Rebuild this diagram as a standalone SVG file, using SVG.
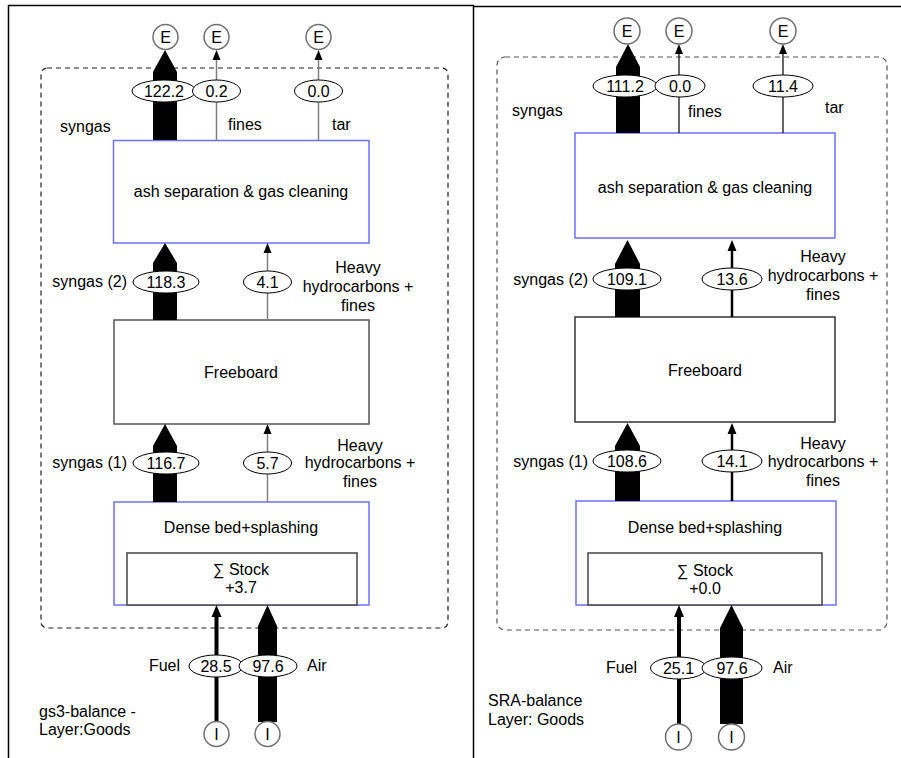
<svg xmlns="http://www.w3.org/2000/svg" width="901" height="758" viewBox="0 0 901 758">
<style>
.t{font-family:"Liberation Sans",Arial,sans-serif;font-size:16px;fill:#000}
.m{text-anchor:middle}
.e{text-anchor:end}
.lbl{fill:#fff;stroke:#000;stroke-width:1}
.circ{fill:#fff;stroke:#707070;stroke-width:1.5}
.blue{fill:#fff;stroke:#7070ff;stroke-width:1.5}
.gbox{fill:#fff;stroke:#555;stroke-width:1.5}
.dash{fill:none;stroke:#222;stroke-width:1.2;stroke-dasharray:5,4}
.thk{fill:#000;stroke:none}
.gl{stroke:#808080;stroke-width:1.5;fill:none}
.bl{stroke:#000;stroke-width:1.2;fill:none}
.bl2{stroke:#000;stroke-width:2.5;fill:none}
.bl4{stroke:#000;stroke-width:4;fill:none}
.hd{fill:#000}
</style>
<rect width="901" height="758" fill="#fff"/>
<g id="frames">
<path d="M8.5,758 V5.5 H473.5 V758" fill="none" stroke="#000" stroke-width="1.5"/>
<path d="M473.5,6.5 H901" fill="none" stroke="#000" stroke-width="1.5"/>
<rect class="dash" x="41" y="68" width="407" height="560" rx="6"/>
<rect class="dash" x="497" y="57" width="390" height="573" rx="8" style="stroke:#555"/>
</g>
<!-- LEFT PANEL NODES -->
<g id="L-ash"><rect class="blue" x="113.5" y="140.5" width="255.5" height="102.5"/><text class="t m" x="241" y="197">ash separation &amp; gas cleaning</text></g>
<g id="L-freeboard"><rect class="gbox" x="114" y="320" width="255" height="104"/><text class="t m" x="241" y="378">Freeboard</text></g>
<g id="L-dense"><rect class="blue" x="114" y="502" width="255" height="103"/><text class="t m" x="241" y="533">Dense bed+splashing</text>
<rect class="gbox" x="127" y="553" width="230" height="52" style="stroke:#444"/><text class="t m" x="241" y="575">∑ Stock</text><text class="t m" x="241" y="593">+3.7</text></g>
<!-- RIGHT PANEL NODES -->
<g id="R-ash"><rect class="blue" x="575" y="133" width="260" height="105"/><text class="t m" x="705" y="193">ash separation &amp; gas cleaning</text></g>
<g id="R-freeboard"><rect class="gbox" x="575" y="317" width="260" height="105" style="stroke:#333"/><text class="t m" x="705" y="376">Freeboard</text></g>
<g id="R-dense"><rect class="blue" x="576" y="501" width="260" height="104"/><text class="t m" x="705" y="533">Dense bed+splashing</text>
<rect class="gbox" x="588" y="553" width="234" height="52" style="stroke:#444"/><text class="t m" x="705" y="576">∑ Stock</text><text class="t m" x="705" y="594">+0.0</text></g>
<g id="connectors">
<!-- left -->
<polygon class="thk" points="153,140 177,140 177,72 165,50 153,72"/>
<line class="gl" x1="216.5" y1="140" x2="216.5" y2="58"/><polygon class="hd" points="216.5,50 212.5,60 220.5,60"/>
<line class="gl" x1="318.5" y1="140" x2="318.5" y2="58"/><polygon class="hd" points="318.5,50 314.5,60 322.5,60"/>
<polygon class="thk" points="153,320 177,320 177,263 165,243 153,263"/>
<line class="gl" x1="267.5" y1="320" x2="267.5" y2="251"/><polygon class="hd" points="267.5,243 263.5,253 271.5,253"/>
<polygon class="thk" points="153,502 177,502 177,446 165,424 153,446"/>
<line class="gl" x1="267.5" y1="502" x2="267.5" y2="432"/><polygon class="hd" points="267.5,424 263.5,434 271.5,434"/>
<line class="bl4" x1="216.5" y1="722" x2="216.5" y2="614"/><polygon class="hd" points="216.5,605 211.5,617 221.5,617"/>
<polygon class="thk" points="258,722 277,722 277,626 267.5,605 258,626"/>
<ellipse class="lbl" cx="164" cy="91" rx="32" ry="11"/><text class="t m" x="164" y="96.5">122.2</text>
<ellipse class="lbl" cx="216.5" cy="91" rx="24" ry="11"/><text class="t m" x="216.5" y="96.5">0.2</text>
<ellipse class="lbl" cx="318.5" cy="91" rx="24" ry="11"/><text class="t m" x="318.5" y="96.5">0.0</text>
<ellipse class="lbl" cx="166" cy="282" rx="33" ry="11"/><text class="t m" x="166" y="287.5">118.3</text>
<ellipse class="lbl" cx="267.5" cy="282" rx="24" ry="11"/><text class="t m" x="267.5" y="287.5">4.1</text>
<ellipse class="lbl" cx="166" cy="463" rx="33" ry="11"/><text class="t m" x="166" y="468.5">116.7</text>
<ellipse class="lbl" cx="267.5" cy="463" rx="24" ry="11"/><text class="t m" x="267.5" y="468.5">5.7</text>
<ellipse class="lbl" cx="216" cy="666" rx="27" ry="11"/><text class="t m" x="216" y="671.5">28.5</text>
<ellipse class="lbl" cx="268" cy="666" rx="29" ry="11"/><text class="t m" x="268" y="671.5">97.6</text>
<text class="t" x="60" y="132">syngas</text>
<text class="t" x="228" y="130">fines</text>
<text class="t" x="332" y="130">tar</text>
<text class="t e" x="127" y="287">syngas (2)</text>
<text class="t m" x="358" y="273">Heavy</text><text class="t m" x="358" y="292">hydrocarbons +</text><text class="t m" x="358" y="311">fines</text>
<text class="t e" x="127" y="468">syngas (1)</text>
<text class="t m" x="360" y="451">Heavy</text><text class="t m" x="360" y="468">hydrocarbons +</text><text class="t m" x="360" y="487">fines</text>
<text class="t e" x="180" y="671">Fuel</text>
<text class="t" x="307" y="671">Air</text>
<!-- right -->
<polygon class="thk" points="616,133 640,133 640,67 628,44 616,67"/>
<line class="bl" x1="679" y1="133" x2="679" y2="52"/><polygon class="hd" points="679,44 675,54 683,54"/>
<line class="bl" x1="783" y1="133" x2="783" y2="52"/><polygon class="hd" points="783,44 779,54 787,54"/>
<polygon class="thk" points="615,317 640,317 640,264 627.5,240 615,264"/>
<line class="bl2" x1="732" y1="317" x2="732" y2="248"/><polygon class="hd" points="732,240 727.5,251 736.5,251"/>
<polygon class="thk" points="615,501 640,501 640,446 627.5,423 615,446"/>
<line class="bl2" x1="732" y1="501" x2="732" y2="431"/><polygon class="hd" points="732,423 727.5,434 736.5,434"/>
<line class="bl4" x1="679" y1="724" x2="679" y2="614"/><polygon class="hd" points="679,605 674,617 684,617"/>
<polygon class="thk" points="720,724 743,724 743,628 731.5,605 720,628"/>
<ellipse class="lbl" cx="625" cy="86" rx="32" ry="11"/><text class="t m" x="625" y="91.5">111.2</text>
<ellipse class="lbl" cx="680" cy="86" rx="25" ry="11"/><text class="t m" x="680" y="91.5">0.0</text>
<ellipse class="lbl" cx="783" cy="86" rx="30" ry="11"/><text class="t m" x="783" y="91.5">11.4</text>
<ellipse class="lbl" cx="627" cy="279" rx="34" ry="11"/><text class="t m" x="627" y="284.5">109.1</text>
<ellipse class="lbl" cx="732" cy="279" rx="30" ry="11"/><text class="t m" x="732" y="284.5">13.6</text>
<ellipse class="lbl" cx="627" cy="461" rx="34" ry="11"/><text class="t m" x="627" y="466.5">108.6</text>
<ellipse class="lbl" cx="732" cy="461" rx="30" ry="11"/><text class="t m" x="732" y="466.5">14.1</text>
<ellipse class="lbl" cx="678.5" cy="668" rx="28" ry="11"/><text class="t m" x="678.5" y="673.5">25.1</text>
<ellipse class="lbl" cx="732" cy="668" rx="30" ry="11"/><text class="t m" x="732" y="673.5">97.6</text>
<text class="t" x="512" y="116">syngas</text>
<text class="t" x="688" y="117">fines</text>
<text class="t" x="825" y="113">tar</text>
<text class="t e" x="588" y="285">syngas (2)</text>
<text class="t m" x="823" y="262">Heavy</text><text class="t m" x="823" y="281">hydrocarbons +</text><text class="t m" x="823" y="300">fines</text>
<text class="t e" x="588" y="467">syngas (1)</text>
<text class="t m" x="823" y="449">Heavy</text><text class="t m" x="823" y="467">hydrocarbons +</text><text class="t m" x="823" y="486">fines</text>
<text class="t e" x="637" y="673">Fuel</text>
<text class="t" x="773" y="673">Air</text>
</g>
<g id="L-E1"><circle class="circ" cx="165.5" cy="37" r="12.5"/><text class="t m" x="165.5" y="42.5">E</text></g>
<g id="L-E2"><circle class="circ" cx="216.5" cy="37" r="12.5"/><text class="t m" x="216.5" y="42.5">E</text></g>
<g id="L-E3"><circle class="circ" cx="318.5" cy="37" r="12.5"/><text class="t m" x="318.5" y="42.5">E</text></g>
<g id="L-I1"><circle class="circ" cx="216.5" cy="734" r="12.5"/><text class="t m" x="216.5" y="739.5">I</text></g>
<g id="L-I2"><circle class="circ" cx="267.5" cy="734" r="12.5"/><text class="t m" x="267.5" y="739.5">I</text></g>
<g id="R-E1"><circle class="circ" cx="627" cy="31" r="13"/><text class="t m" x="627" y="36.5">E</text></g>
<g id="R-E2"><circle class="circ" cx="679" cy="31" r="13"/><text class="t m" x="679" y="36.5">E</text></g>
<g id="R-E3"><circle class="circ" cx="783" cy="31" r="13"/><text class="t m" x="783" y="36.5">E</text></g>
<g id="R-I1"><circle class="circ" cx="678.5" cy="737" r="13"/><text class="t m" x="678.5" y="742.5">I</text></g>
<g id="R-I2"><circle class="circ" cx="731.5" cy="737" r="13"/><text class="t m" x="731.5" y="742.5">I</text></g>
<g id="captions">
<text class="t" x="39" y="717">gs3-balance -</text><text class="t" x="39" y="735">Layer:Goods</text>
<text class="t" x="488" y="706">SRA-balance</text><text class="t" x="488" y="725">Layer: Goods</text>
</g>
</svg>
